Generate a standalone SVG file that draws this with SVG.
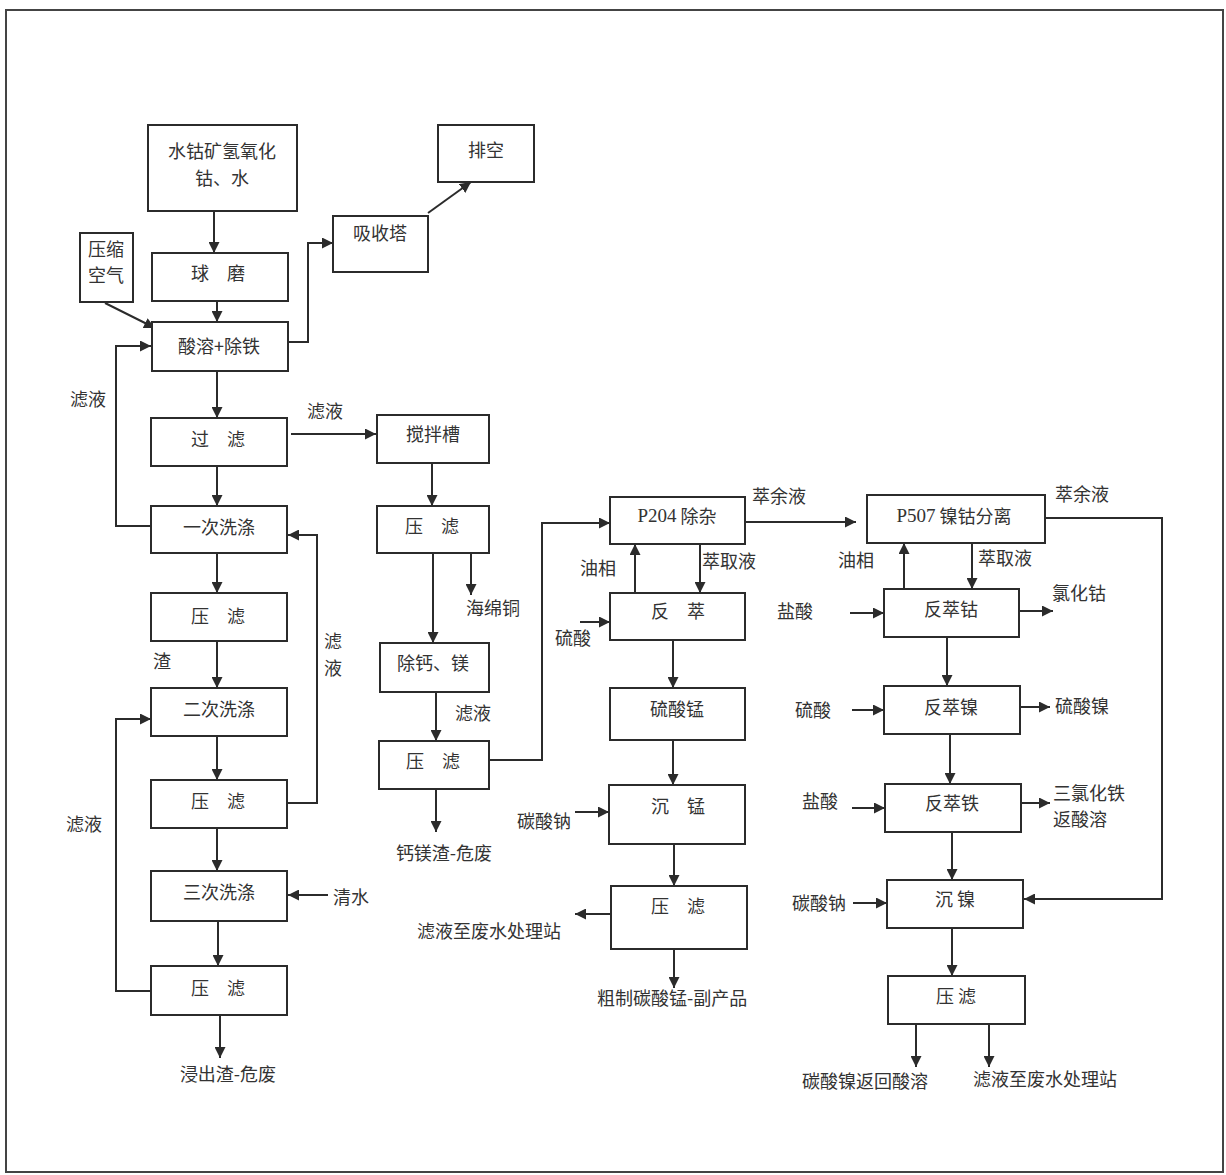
<svg xmlns="http://www.w3.org/2000/svg" width="1226" height="1175" viewBox="0 0 1226 1175">
<style>
.box{fill:#fff;stroke:#2b2b2b;stroke-width:2}
.ln{fill:none;stroke:#2b2b2b;stroke-width:2}
.arr{marker-end:url(#ah)}
text{font-family:"Noto Sans CJK SC","Noto Sans",sans-serif;font-size:18px;fill:#333;dominant-baseline:central}
.c{text-anchor:middle}
.s{text-anchor:start}
.lat{font-family:"Liberation Serif",serif;font-size:19px}
</style>
<defs>
<marker id="ah" viewBox="0 0 10 10" refX="10" refY="5" markerWidth="11" markerHeight="11" markerUnits="userSpaceOnUse" orient="auto">
<path d="M0,0 L10,5 L0,10 z" fill="#2b2b2b"/>
</marker>
</defs>
<rect x="0" y="0" width="1226" height="1175" fill="#fff"/>
<rect x="6" y="10" width="1217" height="1162" fill="none" stroke="#444" stroke-width="2"/>

<g id="connectors">
<path class="ln arr" d="M214,211 V253"/>
<path class="ln arr" d="M217,301 V322"/>
<path class="ln arr" d="M105,303 L155,328"/>
<path class="ln arr" d="M288,342 H308 V243 H333"/>
<path class="ln arr" d="M428,213 L471,182"/>
<path class="ln arr" d="M217,371 V418"/>
<path class="ln arr" d="M291,434 H376"/>
<path class="ln arr" d="M151,526 H116 V346 H151"/>
<path class="ln arr" d="M217,466 V506"/>
<path class="ln arr" d="M217,553 V593"/>
<path class="ln arr" d="M217,641 V688"/>
<path class="ln arr" d="M217,736 V780"/>
<path class="ln arr" d="M287,803 H317 V535 H288"/>
<path class="ln arr" d="M217,828 V871"/>
<path class="ln arr" d="M328,895 H288"/>
<path class="ln arr" d="M218,921 V966"/>
<path class="ln arr" d="M151,991 H116 V719 H151"/>
<path class="ln arr" d="M220,1015 V1058"/>

<path class="ln arr" d="M432,463 V506"/>
<path class="ln arr" d="M471,553 V595"/>
<path class="ln arr" d="M433,553 V643"/>
<path class="ln arr" d="M436,692 V741"/>
<path class="ln arr" d="M489,760 H542 V523 H610"/>
<path class="ln arr" d="M436,789 V832"/>

<path class="ln arr" d="M745,522 H856"/>
<path class="ln arr" d="M635,593 V544"/>
<path class="ln arr" d="M700,544 V593"/>
<path class="ln arr" d="M580,622 H610"/>
<path class="ln arr" d="M673,640 V688"/>
<path class="ln arr" d="M673,740 V785"/>
<path class="ln arr" d="M575,812 H609"/>
<path class="ln arr" d="M674,844 V886"/>
<path class="ln arr" d="M610,914 H575"/>
<path class="ln arr" d="M674,949 V988"/>

<path class="ln arr" d="M1045,518 H1162 V899 H1024"/>
<path class="ln arr" d="M904,589 V543"/>
<path class="ln arr" d="M972,543 V589"/>
<path class="ln arr" d="M850,613 H884"/>
<path class="ln arr" d="M1019,611 H1053"/>
<path class="ln arr" d="M947,637 V686"/>
<path class="ln arr" d="M852,710 H884"/>
<path class="ln arr" d="M1020,707 H1050"/>
<path class="ln arr" d="M950,734 V784"/>
<path class="ln arr" d="M852,808 H885"/>
<path class="ln arr" d="M1021,803 H1050"/>
<path class="ln arr" d="M952,832 V880"/>
<path class="ln arr" d="M853,903 H887"/>
<path class="ln arr" d="M952,928 V976"/>
<path class="ln arr" d="M916,1024 V1067"/>
<path class="ln arr" d="M989,1024 V1067"/>
</g>

<g id="n-ore"><rect class="box" x="148" y="125" width="149" height="86"/>
<text class="c" x="222" y="150">水钴矿氢氧化</text><text class="c" x="222" y="177">钴、水</text></g>
<g id="n-vent"><rect class="box" x="438" y="125" width="96" height="57"/><text class="c" x="486" y="149">排空</text></g>
<g id="n-absorb"><rect class="box" x="333" y="216" width="95" height="56"/><text class="c" x="380" y="232">吸收塔</text></g>
<g id="n-air"><rect class="box" x="80" y="233" width="53" height="69"/>
<text class="c" x="106" y="248">压缩</text><text class="c" x="106" y="274">空气</text></g>
<g id="n-mill"><rect class="box" x="152" y="253" width="136" height="48"/><text class="c" x="218" y="272">球　磨</text></g>
<g id="n-leach"><rect class="box" x="152" y="322" width="136" height="49"/><text class="c" x="219" y="345">酸溶+除铁</text></g>
<g id="n-filter"><rect class="box" x="151" y="418" width="136" height="48"/><text class="c" x="218" y="438">过　滤</text></g>
<g id="n-wash1"><rect class="box" x="151" y="506" width="136" height="47"/><text class="c" x="219" y="526">一次洗涤</text></g>
<g id="n-press1"><rect class="box" x="151" y="593" width="136" height="48"/><text class="c" x="218" y="615">压　滤</text></g>
<g id="n-wash2"><rect class="box" x="151" y="688" width="136" height="48"/><text class="c" x="219" y="708">二次洗涤</text></g>
<g id="n-press2"><rect class="box" x="151" y="780" width="136" height="48"/><text class="c" x="218" y="800">压　滤</text></g>
<g id="n-wash3"><rect class="box" x="151" y="871" width="136" height="50"/><text class="c" x="219" y="891">三次洗涤</text></g>
<g id="n-press3"><rect class="box" x="151" y="966" width="136" height="49"/><text class="c" x="218" y="987">压　滤</text></g>

<g id="n-tank"><rect class="box" x="377" y="415" width="112" height="48"/><text class="c" x="433" y="433">搅拌槽</text></g>
<g id="n-pressc1"><rect class="box" x="377" y="506" width="112" height="47"/><text class="c" x="432" y="525">压　滤</text></g>
<g id="n-camg"><rect class="box" x="380" y="643" width="109" height="49"/><text class="c" x="433" y="662">除钙、镁</text></g>
<g id="n-pressc2"><rect class="box" x="379" y="741" width="110" height="48"/><text class="c" x="433" y="760">压　滤</text></g>

<g id="n-p204"><rect class="box" x="610" y="497" width="135" height="47"/>
<text class="c" x="677" y="515"><tspan class="lat">P204</tspan> 除杂</text></g>
<g id="n-strip"><rect class="box" x="610" y="593" width="135" height="47"/><text class="c" x="678" y="610">反　萃</text></g>
<g id="n-mnso4"><rect class="box" x="610" y="688" width="135" height="52"/><text class="c" x="677" y="708">硫酸锰</text></g>
<g id="n-mnprec"><rect class="box" x="609" y="785" width="136" height="59"/><text class="c" x="678" y="805">沉　锰</text></g>
<g id="n-pressmn"><rect class="box" x="611" y="886" width="136" height="63"/><text class="c" x="678" y="905">压　滤</text></g>

<g id="n-p507"><rect class="box" x="867" y="495" width="178" height="48"/>
<text class="c" x="954" y="515"><tspan class="lat">P507</tspan> 镍钴分离</text></g>
<g id="n-stripco"><rect class="box" x="884" y="589" width="135" height="48"/><text class="c" x="951" y="608">反萃钴</text></g>
<g id="n-stripni"><rect class="box" x="884" y="686" width="136" height="48"/><text class="c" x="951" y="706">反萃镍</text></g>
<g id="n-stripfe"><rect class="box" x="885" y="784" width="136" height="48"/><text class="c" x="952" y="802">反萃铁</text></g>
<g id="n-niprec"><rect class="box" x="887" y="880" width="136" height="48"/><text class="c" x="955" y="898">沉 镍</text></g>
<g id="n-pressni"><rect class="box" x="888" y="976" width="137" height="48"/><text class="c" x="956" y="995">压 滤</text></g>

<g id="labels">
<text class="c" x="88" y="398">滤液</text>
<text class="c" x="325" y="410">滤液</text>
<text class="c" x="333" y="640">滤</text>
<text class="c" x="333" y="667">液</text>
<text class="c" x="162" y="660">渣</text>
<text class="c" x="84" y="823">滤液</text>
<text class="s" x="333" y="896">清水</text>
<text class="c" x="228" y="1073">浸出渣-危废</text>
<text class="s" x="466" y="607">海绵铜</text>
<text class="s" x="455" y="712">滤液</text>
<text class="c" x="444" y="852">钙镁渣-危废</text>
<text class="s" x="752" y="495">萃余液</text>
<text class="s" x="580" y="567">油相</text>
<text class="s" x="702" y="560">萃取液</text>
<text class="s" x="555" y="637">硫酸</text>
<text class="s" x="517" y="820">碳酸钠</text>
<text class="s" x="417" y="930">滤液至废水处理站</text>
<text class="s" x="597" y="997">粗制碳酸锰-副产品</text>
<text class="s" x="1055" y="493">萃余液</text>
<text class="s" x="838" y="559">油相</text>
<text class="s" x="978" y="557">萃取液</text>
<text class="s" x="777" y="610">盐酸</text>
<text class="s" x="1052" y="592">氯化钴</text>
<text class="s" x="795" y="709">硫酸</text>
<text class="s" x="1055" y="705">硫酸镍</text>
<text class="s" x="802" y="800">盐酸</text>
<text class="s" x="1053" y="792">三氯化铁</text>
<text class="s" x="1053" y="818">返酸溶</text>
<text class="s" x="792" y="902">碳酸钠</text>
<text class="s" x="802" y="1080">碳酸镍返回酸溶</text>
<text class="s" x="973" y="1078">滤液至废水处理站</text>
</g>
</svg>
